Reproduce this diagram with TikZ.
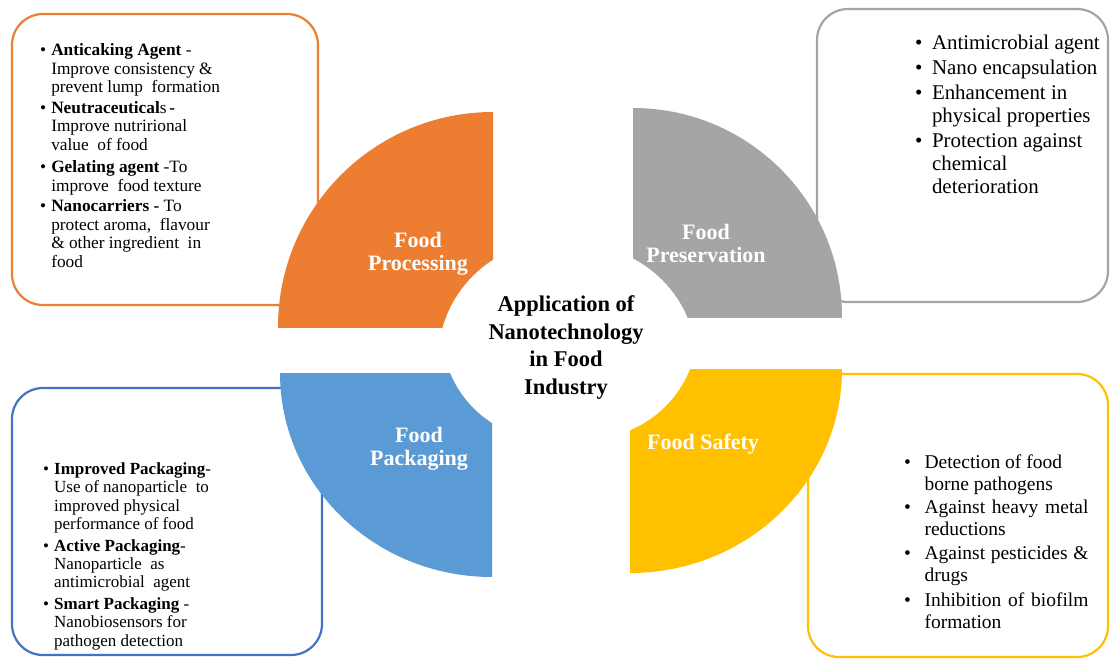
\documentclass[tikz,border=0pt]{standalone}
\usepackage{fontspec}
\setmainfont{Liberation Serif}
\definecolor{corange}{HTML}{ED7D31}
\definecolor{cgray}{HTML}{A5A5A5}
\definecolor{cblue}{HTML}{5B9BD5}
\definecolor{cblueline}{HTML}{4472C4}
\definecolor{cyellow}{HTML}{FFC000}
\begin{document}
\begin{tikzpicture}[x=1pt,y=-1pt,
  roundbox/.style={line width=2.2pt, rounded corners=31pt},
  lbl/.style={inner sep=0pt, text=white, anchor=base, font=\fontsize{22}{23}\selectfont\bfseries},
  lst/.style={inner sep=0pt, anchor=base west}]
\useasboundingbox (0,0) rectangle (1110,659);
\fill[white] (0,0) rectangle (1110,659);

% outline boxes
\draw[roundbox, corange] (12,14) rectangle (318,305);
\draw[roundbox, cgray] (817,9) rectangle (1108,302);
\draw[roundbox, cblueline] (12,388) rectangle (322,655);
\draw[roundbox, cyellow] (808,374) rectangle (1108,657);

% quadrants
\begin{scope}
  \clip (278,112) rectangle (493,327);
  \clip (493,327) circle (215);
  \fill[corange, even odd rule] (270,100) rectangle (500,340) (557,360) circle (119);
\end{scope}
\begin{scope}
  \clip (633,108) rectangle (842,317);
  \clip (633,317) circle (209);
  \fill[cgray, even odd rule] (625,100) rectangle (850,325) (578,364) circle (119);
\end{scope}
\begin{scope}
  \clip (280,373) rectangle (492,577);
  \clip (492,373) ellipse [x radius=212, y radius=204];
  \fill[cblue, even odd rule] (270,365) rectangle (500,585) (550,332) circle (108);
\end{scope}
\begin{scope}
  \clip (630,369) rectangle (842,573);
  \clip (630,369) ellipse [x radius=212, y radius=204];
  \fill[cyellow, even odd rule] (620,360) rectangle (850,580) (587,328) circle (111);
\end{scope}

% quadrant labels
\node[lbl] (procl) at (418,247) {\begin{tabular}[t]{@{}c@{}}Food\\Processing\end{tabular}};
\node[lbl] (presl) at (706,239) {\begin{tabular}[t]{@{}c@{}}Food\\Preservation\end{tabular}};
\node[lbl] (packl) at (419,442) {\begin{tabular}[t]{@{}c@{}}Food\\Packaging\end{tabular}};
\node[lbl] (safel) at (703,449) {Food Safety};

% title
\node[inner sep=0pt, anchor=base, font=\fontsize{22.5}{27.6}\selectfont\bfseries] (title) at (566,311.5)
  {\begin{tabular}[t]{@{}c@{}}Application of\\Nanotechnology\\in Food\\Industry\end{tabular}};

% processing list
\node[lst, font=\fontsize{17.3}{18.5}\selectfont] (proclist) at (40,55.5) {\begin{tabular}[t]{@{}l@{\hspace{5pt}}l@{}}
• & \textbf{Anticaking Agent} -\\
  & Improve consistency \&\\
  & prevent lump\ \ formation\\[2pt]
• & \textbf{Neutraceutical}s\,\textbf{-}\\
  & Improve nutrirional\\
  & value\ \ of food\\[4pt]
• & \textbf{Gelating agent} -To\\
  & improve\ \ food texture\\[2pt]
• & \textbf{Nanocarriers -} To\\
  & protect aroma,\ \ flavour\\
  & \& other ingredient\ \ in\\
  & food
\end{tabular}};

% preservation list
\node[lst, font=\fontsize{20.9}{23}\selectfont] (preslist) at (915,49) {\begin{tabular}[t]{@{}l@{\hspace{9.5pt}}l@{}}
• & Antimicrobial agent\\[2pt]
• & Nano encapsulation\\[2pt]
• & Enhancement in\\
  & physical properties\\[2pt]
• & Protection against\\
  & chemical\\
  & deterioration
\end{tabular}};

% packaging list
\node[lst, font=\fontsize{17}{18.3}\selectfont] (packlist) at (43,474.5) {\begin{tabular}[t]{@{}l@{\hspace{5pt}}l@{}}
• & \textbf{Improved Packaging}-\\
  & Use of nanoparticle\ \ to\\
  & improved physical\\
  & performance of food\\[3.5pt]
• & \textbf{Active Packaging}-\\
  & Nanoparticle\ \ as\\
  & antimicrobial\ \ agent\\[3.5pt]
• & \textbf{Smart Packaging} -\\
  & Nanobiosensors for\\
  & pathogen detection
\end{tabular}};

% safety list
\node[lst, font=\fontsize{19.5}{21.5}\selectfont] (safelist) at (904,468.5) {\begin{tabular}[t]{@{}l@{\hspace{13.5pt}}l@{}}
• & Detection of food\\
  & borne pathogens\\[2pt]
• & \makebox[164pt][s]{Against heavy metal}\\
  & reductions\\[3pt]
• & \makebox[164pt][s]{Against pesticides \&}\\
  & drugs\\[4pt]
• & \makebox[164pt][s]{Inhibition of biofilm}\\
  & formation
\end{tabular}};
\end{tikzpicture}
\end{document}
